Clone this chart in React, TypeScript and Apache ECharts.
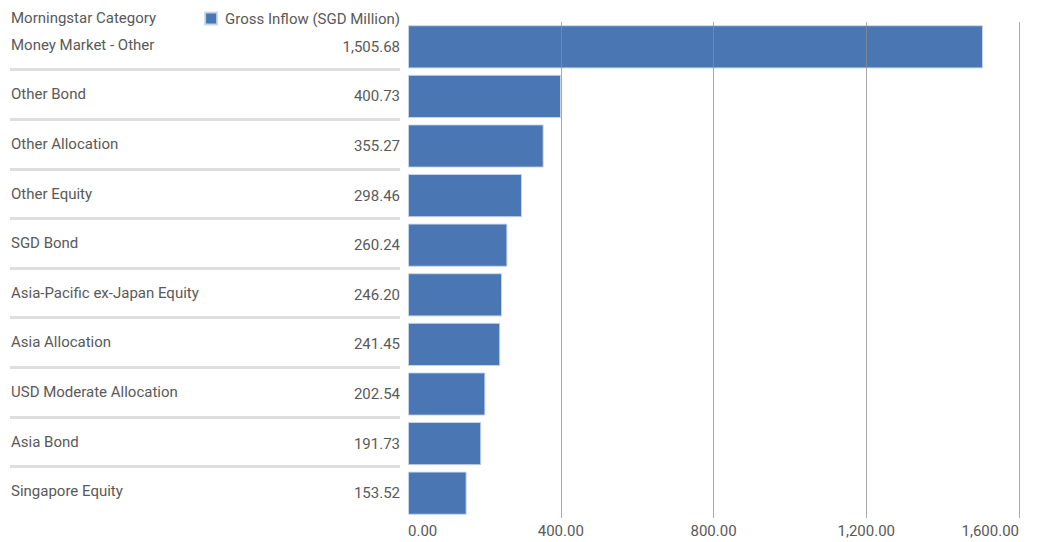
import React, { useEffect, useRef } from "react";
import * as echarts from "echarts";

const categories = [
  "Money Market - Other",
  "Other Bond",
  "Other Allocation",
  "Other Equity",
  "SGD Bond",
  "Asia-Pacific ex-Japan Equity",
  "Asia Allocation",
  "USD Moderate Allocation",
  "Asia Bond",
  "Singapore Equity",
];
const grossInflow = [1505.68, 400.73, 355.27, 298.46, 260.24, 246.2, 241.45, 202.54, 191.73, 153.52];
const seriesName = "Gross Inflow (SGD Million)";
const headerText = "Morningstar Category";

const FONT = '"Roboto", sans-serif';
const FS = 15;
const TEXT = "#595959";

const fmt = (v: number) =>
  v.toLocaleString("en-US", { minimumFractionDigits: 2, maximumFractionDigits: 2 });

export default function App() {
  const ref = useRef<HTMLDivElement>(null);
  useEffect(() => {
    if (!ref.current) return;
    const chart = echarts.init(ref.current, undefined, { renderer: "svg" });
    chart.setOption({
      animation: false,
      textStyle: { fontFamily: FONT },
      title: {
        text: headerText,
        left: 11,
        top: 10,
        padding: 0,
        textStyle: { fontFamily: FONT, fontSize: FS, fontWeight: "normal", color: TEXT },
      },
      legend: {
        right: 637,
        top: 11,
        padding: 0,
        icon: "rect",
        itemWidth: 12,
        itemHeight: 12,
        textStyle: { fontFamily: FONT, fontSize: FS, color: TEXT, padding: [0, 0, 0, 3] },
        data: [seriesName],
      },
      grid: [
        { left: 408, right: 18, top: 22, bottom: 24 },
        { left: 10, width: 390, top: 20, bottom: 26 },
      ],
      xAxis: [
        {
          gridIndex: 0,
          type: "value",
          min: 0,
          max: 1600,
          interval: 400,
          z: 5,
          axisLine: { show: false },
          axisTick: { show: false },
          axisLabel: {
            color: TEXT,
            fontFamily: FONT,
            fontSize: FS,
            margin: 5,
            formatter: (v: number) => fmt(v),
            alignMinLabel: "left",
            alignMaxLabel: "right",
          },
          splitLine: {
            show: true,
            showMinLine: false,
            lineStyle: { color: "rgba(140,140,140,0.75)", width: 1 },
          },
        },
        {
          gridIndex: 1,
          type: "value",
          show: false,
          min: 0,
          max: 1,
        },
      ],
      yAxis: [
        {
          gridIndex: 0,
          type: "category",
          inverse: true,
          data: categories,
          axisLine: { show: false },
          axisTick: { show: false },
          axisLabel: { show: false },
          splitLine: { show: false },
        },
        {
          gridIndex: 1,
          type: "category",
          inverse: true,
          data: categories,
          axisLine: { show: false },
          axisTick: { show: false },
          axisLabel: {
            show: true,
            inside: true,
            margin: 1,
            color: TEXT,
            fontFamily: FONT,
            fontSize: FS,
          },
          splitLine: {
            show: true,
            showMinLine: false,
            showMaxLine: false,
            lineStyle: { color: "#dedede", width: 3 },
          },
        },
      ],
      series: [
        {
          name: seriesName,
          type: "bar",
          xAxisIndex: 0,
          yAxisIndex: 0,
          data: grossInflow,
          barCategoryGap: "13%",
          itemStyle: { color: "#4a76b4", borderColor: "rgba(200,215,235,0.9)", borderWidth: 1 },
          label: {
            show: true,
            position: "left",
            distance: 8,
            color: TEXT,
            fontFamily: FONT,
            fontSize: FS,
            formatter: (p: any) => fmt(p.value),
          },
        },
      ],
    });
    return () => chart.dispose();
  }, []);
  return (
    <div
      ref={ref}
      style={{ position: "fixed", left: 0, top: 0, width: 1037, height: 542, background: "#fff" }}
    />
  );
}
